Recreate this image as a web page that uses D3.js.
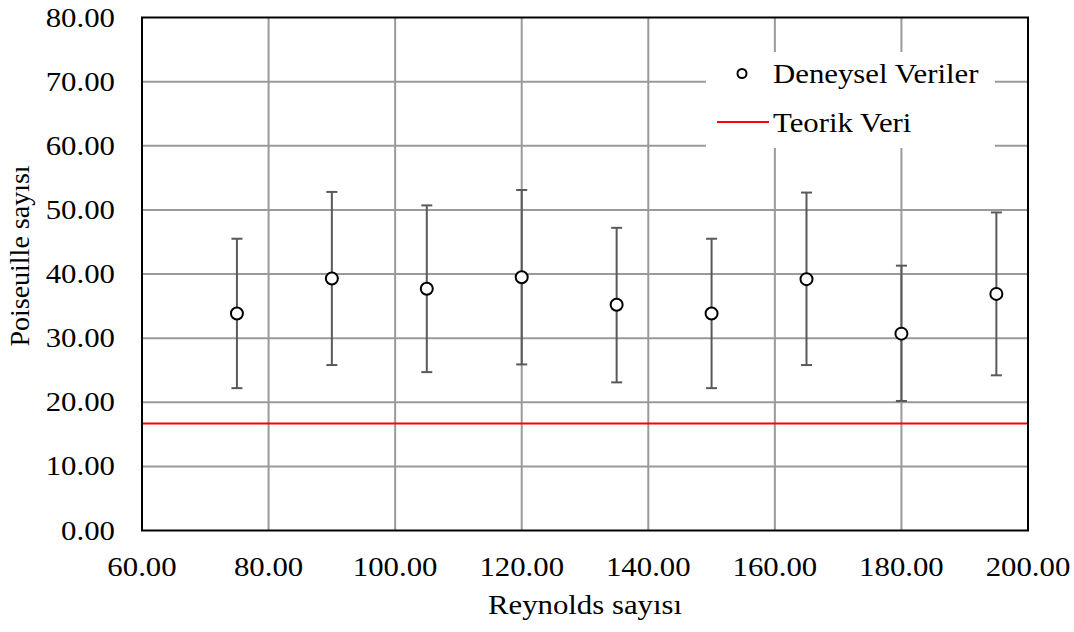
<!DOCTYPE html>
<html lang="tr">

<head>
    <meta charset="UTF-8">
    <title>Poiseuille - Reynolds</title>
    <style>
        body {
            margin: 0;
            background-color: white;
        }

        svg {
            display: block;
            font-family: "Liberation Serif", "Times New Roman", serif;
        }
    </style>
</head>

<body>
    <script src="https://d3js.org/d3.v7.min.js"></script>
    <script>
        // values
        let reynolds = [75, 90, 105, 120, 135, 150, 165, 180, 195];
        let poiseuille = [33.85, 39.3, 37.7, 39.5, 35.2, 33.85, 39.2, 30.7, 36.9];
        let errHigh = [45.5, 52.8, 50.7, 53.1, 47.2, 45.5, 52.7, 41.3, 49.6];
        let errLow = [22.2, 25.8, 24.7, 25.9, 23.1, 22.2, 25.8, 20.2, 24.2];
        let theory = 16.7;
        let xTicks = [60, 80, 100, 120, 140, 160, 180, 200];
        let yTicks = [0, 10, 20, 30, 40, 50, 60, 70, 80];

        let width = 1074, height = 632;
        let margin = { left: 142, right: 46, top: 17.5, bottom: 101.5 };
        let fs = 28, stretch = 1.1; // the text in the original is a bit wide
        let fmt = d3.format('.2f');

        let svg = d3.select('body')
            .append('svg')
            .attr('width', width)
            .attr('height', height)
            .style('font-size', fs + 'px');

        let x = d3.scaleLinear()
            .domain([60, 200])
            .range([margin.left, width - margin.right]);
        let y = d3.scaleLinear()
            .domain([0, 80])
            .range([height - margin.bottom, margin.top]);

        function wideText(g, tx, ty, anchor, str) {
            return g.append('text')
                .attr('transform', `translate(${tx},${ty}) scale(${stretch},1)`)
                .attr('text-anchor', anchor)
                .attr('fill', 'black')
                .text(str);
        }

        // grid
        let grid = svg.append('g').attr('stroke', '#9a9a9a').attr('stroke-width', 2);
        grid.selectAll('.gx')
            .data(xTicks.slice(1, -1))
            .enter().append('line')
            .attr('x1', d => x(d)).attr('x2', d => x(d))
            .attr('y1', y(0)).attr('y2', y(80));
        grid.selectAll('.gy')
            .data(yTicks.slice(1, -1))
            .enter().append('line')
            .attr('x1', x(60)).attr('x2', x(200))
            .attr('y1', d => y(d)).attr('y2', d => y(d));

        // legend background hides the grid behind it
        svg.append('rect')
            .attr('x', 706).attr('y', 52)
            .attr('width', 289).attr('height', 96)
            .attr('fill', 'white');

        // theoretical line
        svg.append('line')
            .attr('x1', x(60)).attr('x2', x(200))
            .attr('y1', y(theory)).attr('y2', y(theory))
            .attr('stroke', '#ff0000')
            .attr('stroke-width', 2);

        // error bars
        let eb = svg.append('g')
            .attr('stroke', '#595959')
            .attr('stroke-width', 2);
        reynolds.forEach((r, i) => {
            eb.append('line')
                .attr('x1', x(r)).attr('x2', x(r))
                .attr('y1', y(errLow[i])).attr('y2', y(errHigh[i]));
            [errLow[i], errHigh[i]].forEach(v => {
                eb.append('line')
                    .attr('x1', x(r) - 5.5).attr('x2', x(r) + 5.5)
                    .attr('y1', y(v)).attr('y2', y(v));
            });
        });

        // data points
        svg.append('g')
            .selectAll('circle')
            .data(reynolds)
            .enter().append('circle')
            .attr('cx', d => x(d))
            .attr('cy', (d, i) => y(poiseuille[i]))
            .attr('r', 6)
            .attr('fill', 'white')
            .attr('stroke', 'black')
            .attr('stroke-width', 2);

        // frame
        svg.append('rect')
            .attr('x', x(60)).attr('y', y(80))
            .attr('width', x(200) - x(60))
            .attr('height', y(0) - y(80))
            .attr('fill', 'none')
            .attr('stroke', 'black')
            .attr('stroke-width', 2);

        // tick labels
        let xl = svg.append('g');
        xTicks.forEach(t => wideText(xl, x(t), 576, 'middle', fmt(t)));
        let yl = svg.append('g');
        yTicks.forEach(t => wideText(yl, x(60) - 27, y(t) + 9, 'end', fmt(t)));

        // axis titles
        wideText(svg, (x(60) + x(200)) / 2, 614, 'middle', 'Reynolds sayısı');
        svg.append('text')
            .attr('transform', `translate(29,256) rotate(-90)`)
            .attr('text-anchor', 'middle')
            .text('Poiseuille sayısı');

        // legend
        let legend = svg.append('g');
        legend.append('circle')
            .attr('cx', 742).attr('cy', 73.5)
            .attr('r', 4.5)
            .attr('fill', 'white')
            .attr('stroke', 'black')
            .attr('stroke-width', 2);
        wideText(legend, 773, 83, 'start', 'Deneysel Veriler');
        legend.append('line')
            .attr('x1', 717).attr('x2', 769)
            .attr('y1', 122).attr('y2', 122)
            .attr('stroke', '#ff0000')
            .attr('stroke-width', 2);
        wideText(legend, 773, 132, 'start', 'Teorik Veri');
    </script>
</body>

</html>
